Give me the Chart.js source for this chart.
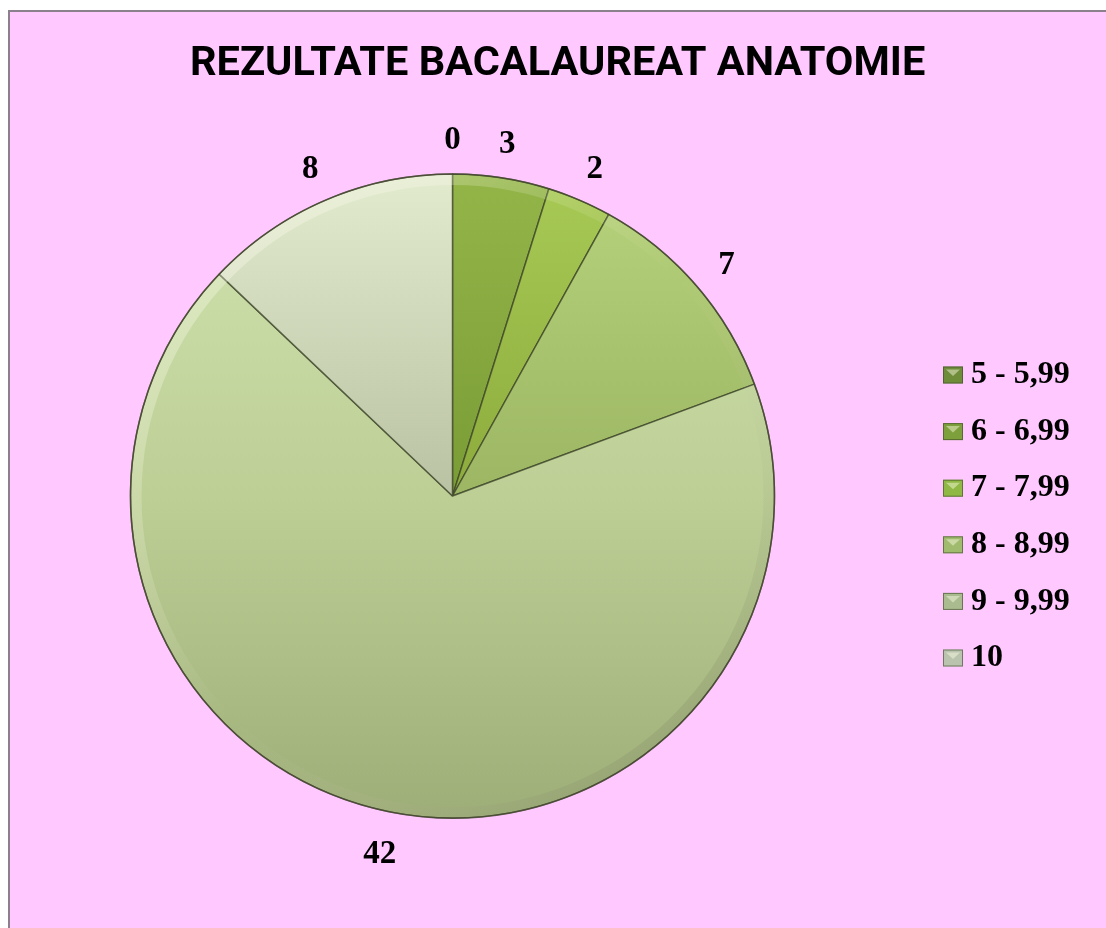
<!DOCTYPE html>
<html><head><meta charset="utf-8">
<script src="https://cdn.jsdelivr.net/npm/chart.js"></script>
<style>
html,body{margin:0;padding:0;background:#ffffff;overflow:hidden;}
#frame{position:absolute;left:8px;top:10px;width:1110px;height:930px;background:#FFC8FF;border-left:2px solid #8c808c;border-top:2px solid #8c808c;}
#c{position:absolute;left:0;top:0;}
</style></head><body>
<div id="frame"></div>
<canvas id="c" width="1106" height="928"></canvas>
<script>
const categories = ['5 - 5,99', '6 - 6,99', '7 - 7,99', '8 - 8,99', '9 - 9,99', '10'];
const counts = [0, 3, 2, 7, 42, 8];
const titleText = 'REZULTATE BACALAUREAT ANATOMIE';

// slice shading: colour at top of pie, at centre, at bottom
const shadeTop    = ['#7a9840', '#93b548', '#a8ca55', '#b7d37c', '#d0e3b0', '#e3ebcf'];
const shadeMid    = ['#6e8a3a', '#7a9c36', '#8cab3c', '#9cb663', '#bdcf95', '#b9c2a2'];
const shadeBottom = ['#6e8a3a', '#7a9c36', '#8cab3c', '#9cb663', '#9eae78', '#b9c2a2'];
const legendColors = ['#6f8c3b', '#7ea03c', '#90b845', '#a0bb6e', '#aabb90', '#bac3ae'];

const PIE_R = 322;

function sliceFill(context) {
  const i = context.dataIndex;
  const chart = context.chart;
  const a = chart.chartArea;
  if (!a) return shadeMid[i];
  const cy = (a.top + a.bottom) / 2;
  const g = chart.ctx.createLinearGradient(0, cy - PIE_R, 0, cy + PIE_R);
  g.addColorStop(0, shadeTop[i]);
  g.addColorStop(0.5, shadeMid[i]);
  g.addColorStop(1, shadeBottom[i]);
  return g;
}

const valueLabels = {
  id: 'valueLabels',
  afterDatasetsDraw(chart) {
    const ctx = chart.ctx;
    const meta = chart.getDatasetMeta(0);
    ctx.save();
    ctx.font = 'bold 33px "Liberation Serif", "Times New Roman", serif';
    ctx.fillStyle = '#000000';
    ctx.textAlign = 'center';
    ctx.textBaseline = 'middle';
    meta.data.forEach((el, i) => {
      const p = el.getProps(['x', 'y', 'startAngle', 'endAngle', 'outerRadius'], true);
      const mid = (p.startAngle + p.endAngle) / 2;
      const r = p.outerRadius + 39;
      ctx.fillText(String(counts[i]), p.x + Math.cos(mid) * r, p.y + Math.sin(mid) * r + 5);
    });
    ctx.restore();
  }
};

const rimShade = {
  id: 'rimShade',
  afterDatasetsDraw(chart) {
    const ctx = chart.ctx;
    const el = chart.getDatasetMeta(0).data[0];
    if (!el) return;
    const p = el.getProps(['x', 'y', 'outerRadius'], true);
    ctx.save();
    const g = ctx.createLinearGradient(p.x - p.outerRadius, p.y - p.outerRadius, p.x + p.outerRadius, p.y + p.outerRadius);
    g.addColorStop(0, 'rgba(255,255,240,0.45)');
    g.addColorStop(0.5, 'rgba(255,255,240,0.0)');
    g.addColorStop(1, 'rgba(40,50,20,0.25)');
    ctx.strokeStyle = g;
    ctx.lineWidth = 10;
    ctx.beginPath();
    ctx.arc(p.x, p.y, p.outerRadius - 6, 0, Math.PI * 2);
    ctx.stroke();
    ctx.strokeStyle = 'rgba(70,70,50,0.8)';
    ctx.lineWidth = 1.5;
    ctx.beginPath();
    ctx.arc(p.x, p.y, p.outerRadius, 0, Math.PI * 2);
    ctx.stroke();
    ctx.restore();
  }
};

// a right-hand layout box that holds the legend
function makeLegendBox(chart) {
  return {
    position: 'right', weight: 0, fullSize: false,
    options: { stackWeight: 1 },
    left: 0, top: 0, right: 0, bottom: 0, width: 0, height: 0,
    isHorizontal() { return false; },
    getPadding() { return { left: 0, right: 0, top: 0, bottom: 0 }; },
    update(maxWidth, maxHeight) {
      this.width = 391;
      this.height = maxHeight;
    },
    draw() {
      const ctx = chart.ctx;
      const boxX = this.left + 228, boxW = 20, boxH = 17, textX = this.left + 256, firstY = 375, step = 56.6;
      ctx.save();
      ctx.font = 'bold 32px "Liberation Serif", "Times New Roman", serif';
      ctx.textBaseline = 'middle';
      ctx.textAlign = 'left';
      chart.data.labels.forEach((lab, i) => {
        const y = firstY + i * step;
        ctx.fillStyle = legendColors[i];
        ctx.fillRect(boxX, y - boxH / 2, boxW, boxH);
        ctx.fillStyle = 'rgba(255,255,230,0.45)';
        ctx.beginPath();
        ctx.moveTo(boxX + 3, y - boxH / 2 + 3);
        ctx.lineTo(boxX + boxW - 3, y - boxH / 2 + 3);
        ctx.lineTo(boxX + boxW / 2, y + 1);
        ctx.closePath();
        ctx.fill();
        ctx.strokeStyle = 'rgba(60,70,40,0.6)';
        ctx.lineWidth = 1;
        ctx.strokeRect(boxX + 0.5, y - boxH / 2 + 0.5, boxW - 1, boxH - 1);
        ctx.fillStyle = '#000000';
        ctx.fillText(lab, textX, y);
      });
      ctx.restore();
    }
  };
}

const sideLegend = {
  id: 'sideLegend',
  beforeInit(chart) {
    Chart.layouts.addBox(chart, makeLegendBox(chart));
  }
};

new Chart(document.getElementById('c'), {
  type: 'pie',
  data: {
    labels: categories,
    datasets: [{
      data: counts,
      backgroundColor: sliceFill,
      borderColor: 'rgba(60,68,40,0.75)',
      borderWidth: 1.5,
      hoverOffset: 0,
      clip: false
    }]
  },
  options: {
    responsive: false,
    animation: false,
    devicePixelRatio: 1,
    radius: PIE_R,
    layout: { padding: { left: 190, right: 0, top: 0, bottom: 35.4 } },
    plugins: {
      legend: { display: false },
      tooltip: { enabled: false },
      title: {
        display: true,
        text: titleText,
        align: 'start',
        color: '#000000',
        font: { family: 'Roboto, "Open Sans", sans-serif', size: 41.5, weight: 'bold', lineHeight: 1.2 },
        padding: { top: 39.6, bottom: 10 }
      }
    }
  },
  plugins: [sideLegend, rimShade, valueLabels]
});
</script>
</body></html>
